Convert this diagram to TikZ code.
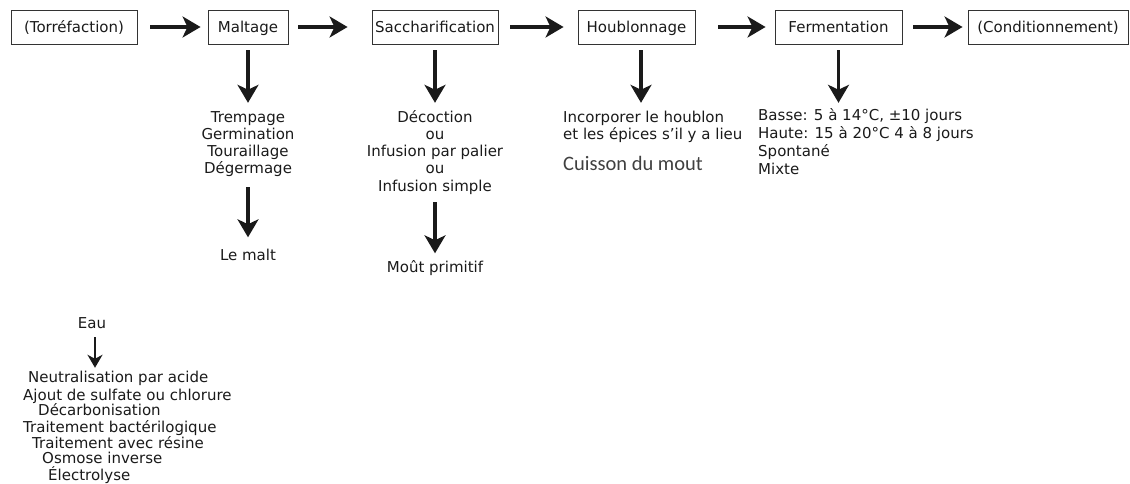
\documentclass[tikz,border=0pt]{standalone}
\usepackage{fontspec}
\setmainfont{DejaVu Sans}
\newfontfamily\calfont{Carlito}
\usetikzlibrary{arrows.meta}
\definecolor{ink}{HTML}{1A1A1A}
\definecolor{boxline}{HTML}{333333}
\definecolor{cuisson}{HTML}{404040}
\begin{document}
\begin{tikzpicture}[x=1pt,y=-1pt,
  box/.style={draw=boxline, line width=0.9pt, minimum height=34pt, inner sep=0pt, text height=13pt, text depth=1pt, text=ink, font=\fontsize{15}{17}\selectfont},
  txt/.style={inner sep=0pt, text height=10.5pt, text depth=3pt, text=ink, font=\fontsize{15}{17}\selectfont},
  arr/.style={draw=ink, line width=3.2pt, -{Stealth[length=18pt,width=21pt,inset=5pt]}},
  sarr/.style={draw=ink, line width=2.6pt, -{Stealth[length=13pt,width=15pt,inset=4pt]}}]
\useasboundingbox (0,0) rectangle (1130,484);
% boxes
\node[box, minimum width=126pt] (torr) at (74,27) {(Torréfaction)};
\node[box, minimum width=80pt] (malt) at (248,27) {Maltage};
\node[box, minimum width=126pt] (sacc) at (435,27) {Saccharification};
\node[box, minimum width=117pt] (houb) at (636.5,27) {Houblonnage};
\node[box, minimum width=127pt] (ferm) at (838.5,27) {Fermentation};
\node[box, minimum width=160pt] (cond) at (1048,27) {(Conditionnement)};
% horizontal arrows
\draw[arr, shorten <=13pt, shorten >=7pt] (torr) -- (malt);
\draw[arr, shorten <=10pt, shorten >=24pt] (malt) -- (sacc);
\draw[arr, shorten <=12pt, shorten >=14pt] (sacc) -- (houb);
\draw[arr, shorten <=23pt, shorten >=9pt] (houb) -- (ferm);
\draw[arr, shorten <=11pt, shorten >=5pt] (ferm) -- (cond);
% Maltage
\node[txt, anchor=base] (m1) at (248,123) {Trempage};
\node[txt, anchor=base] (m2) at (248,140) {Germination};
\node[txt, anchor=base] (m3) at (248,157) {Touraillage};
\node[txt, anchor=base] (m4) at (248,174) {Dégermage};
\node[txt, anchor=base] (m5) at (248,260) {Le malt};
\draw[arr, shorten <=6pt, shorten >=9.5pt] (malt.south) -- (m1.north);
\draw[arr, shorten <=10pt, shorten >=12pt] (m4.south) -- (m5.north);
% Saccharification
\node[txt, anchor=base] (s1) at (435,123) {Décoction};
\node[txt, anchor=base] (s2) at (435,140) {ou};
\node[txt, anchor=base] (s3) at (435,157) {Infusion par palier};
\node[txt, anchor=base] (s4) at (435,174) {ou};
\node[txt, anchor=base] (s5) at (435,191) {Infusion simple};
\node[txt, anchor=base] (s6) at (435,272) {Moût primitif};
\draw[arr, shorten <=6pt, shorten >=9.5pt] (sacc.south) -- (s1.north);
\draw[arr, shorten <=8pt, shorten >=8pt] (s5.south) -- (s6.north);
% Houblonnage
\node[txt, anchor=base west] (h1) at (563,123) {Incorporer le houblon};
\node[txt, anchor=base west] (h2) at (563,140) {et les épices s’il y a lieu};
\node[inner sep=0pt, anchor=base west, text=cuisson, font=\calfont\fontsize{20.5}{24}\selectfont] (h3) at (563,171) {Cuisson du mout};
\draw[arr, shorten <=6pt, shorten >=9.5pt] ([xshift=4.5pt]houb.south) -- ([xshift=4.5pt]houb.south |- h1.north);
% Fermentation
\node[txt, anchor=base west] (f1) at (758,121) {Basse: 5 à 14°C, ±10 jours};
\node[txt, anchor=base west] (f2) at (758,139) {Haute: 15 à 20°C 4 à 8 jours};
\node[txt, anchor=base west] (f3) at (758,157) {Spontané};
\node[txt, anchor=base west] (f4) at (758,175) {Mixte};
\draw[arr, shorten <=6pt, shorten >=7.5pt] (ferm.south) -- (ferm.south |- f1.north);
% Eau
\node[txt, anchor=base] (eau) at (92,328) {Eau};
\node[txt, anchor=base west] (w1) at (28,382) {Neutralisation par acide};
\node[txt, anchor=base west] (w2) at (23,400) {Ajout de sulfate ou chlorure};
\node[txt, anchor=base west] (w3) at (38,415) {Décarbonisation};
\node[txt, anchor=base west] (w4) at (23,432) {Traitement bactérilogique};
\node[txt, anchor=base west] (w5) at (32,448) {Traitement avec résine};
\node[txt, anchor=base west] (w6) at (42,463) {Osmose inverse};
\node[txt, anchor=base west] (w7) at (48,480) {Électrolyse};
\draw[sarr, shorten <=6pt, shorten >=3.5pt] ([xshift=3pt]eau.south) -- ([xshift=3pt]eau.south |- w1.north);
\end{tikzpicture}
\end{document}
